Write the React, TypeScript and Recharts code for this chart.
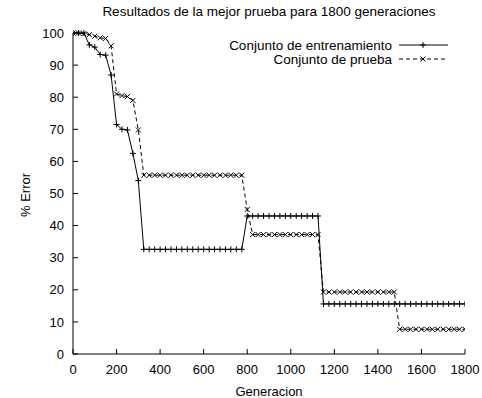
import React from 'react';
import { LineChart, Line, XAxis, YAxis } from 'recharts';

const generations = [
  0, 25, 50, 75, 100, 125, 150, 175, 200, 225, 250, 275, 300, 325, 350, 375, 400, 425, 450, 475,
  500, 525, 550, 575, 600, 625, 650, 675, 700, 725, 750, 775, 800, 825, 850, 875, 900, 925, 950,
  975, 1000, 1025, 1050, 1075, 1100, 1125, 1150, 1175, 1200, 1225, 1250, 1275, 1300, 1325, 1350,
  1375, 1400, 1425, 1450, 1475, 1500, 1525, 1550, 1575, 1600, 1625, 1650, 1675, 1700, 1725, 1750,
  1775, 1800,
];

const trainingError = [
  100, 100, 100, 96.3, 95.6, 93.3, 93.1, 86.9, 71.5, 70.0, 69.8, 62.5, 54.0,
  32.6, 32.6, 32.6, 32.6, 32.6, 32.6, 32.6, 32.6, 32.6, 32.6, 32.6, 32.6, 32.6, 32.6, 32.6, 32.6, 32.6, 32.6, 32.6,
  43.0, 43.0, 43.0, 43.0, 43.0, 43.0, 43.0, 43.0, 43.0, 43.0, 43.0, 43.0, 43.0, 43.0,
  15.6, 15.6, 15.6, 15.6, 15.6, 15.6, 15.6, 15.6, 15.6, 15.6, 15.6, 15.6, 15.6, 15.6, 15.6, 15.6, 15.6, 15.6,
  15.6, 15.6, 15.6, 15.6, 15.6, 15.6, 15.6, 15.6, 15.6,
];

const testError = [
  100, 100, 99.8, 99.5, 99.0, 98.5, 98.3, 96.0, 81.0, 80.5, 80.2, 79.0, 69.8,
  55.7, 55.7, 55.7, 55.7, 55.7, 55.7, 55.7, 55.7, 55.7, 55.7, 55.7, 55.7, 55.7, 55.7, 55.7, 55.7, 55.7, 55.7, 55.7,
  45.0,
  37.2, 37.2, 37.2, 37.2, 37.2, 37.2, 37.2, 37.2, 37.2, 37.2, 37.2, 37.2, 37.2,
  19.3, 19.3, 19.3, 19.3, 19.3, 19.3, 19.3, 19.3, 19.3, 19.3, 19.3, 19.3, 19.3, 19.3,
  7.7, 7.7, 7.7, 7.7, 7.7, 7.7, 7.7, 7.7, 7.7, 7.7, 7.7, 7.7, 7.7,
];

const xTicks = [0, 200, 400, 600, 800, 1000, 1200, 1400, 1600, 1800];
const yTicks = [0, 10, 20, 30, 40, 50, 60, 70, 80, 90, 100];

const chartTitle = 'Resultados de la mejor prueba para 1800 generaciones';
const xLabel = 'Generacion';
const yLabel = '% Error';
const trainName = 'Conjunto de entrenamiento';
const testName = 'Conjunto de prueba';

const data = generations.map((g, i) => ({ gen: g, train: trainingError[i], test: testError[i] }));

const FONT = '"Liberation Sans", Arial, Helvetica, sans-serif';
const W = 482;
const H = 398;

const plusPath = (cx: number, cy: number) => `M${cx - 3},${cy}h6M${cx},${cy - 3}v6`;
const crossPath = (cx: number, cy: number) =>
  `M${cx - 2.5},${cy - 2.5}l5,5M${cx - 2.5},${cy + 2.5}l5,-5`;

const PlusDot = (props: any) => {
  const { cx, cy, index } = props;
  if (cx == null || cy == null) return <g key={`pe${index}`} />;
  return <path key={`p${index}`} d={plusPath(cx, cy)} stroke="#000" strokeWidth={1} fill="none" />;
};

const CrossDot = (props: any) => {
  const { cx, cy, index } = props;
  if (cx == null || cy == null) return <g key={`ce${index}`} />;
  return <path key={`c${index}`} d={crossPath(cx, cy)} stroke="#000" strokeWidth={1} fill="none" />;
};

const tickStyle = { fill: '#000', fontSize: 13, fontFamily: FONT };

export default function App() {
  return (
    <div style={{ position: 'absolute', left: 0, top: 0, width: W, height: H, background: '#fff' }}>
      <LineChart
        width={W}
        height={H}
        data={data}
        margin={{ top: 33, right: 17, bottom: 14, left: 13 }}
      >
        <XAxis
          xAxisId="b"
          dataKey="gen"
          type="number"
          domain={[0, 1800]}
          ticks={xTicks}
          height={30}
          tickSize={-5}
          tickMargin={16}
          stroke="#000"
          tickLine={{ stroke: '#000' }}
          axisLine={{ stroke: '#000' }}
          tick={tickStyle}
          interval={0}
          allowDataOverflow
        />
        <XAxis
          xAxisId="t"
          orientation="top"
          type="number"
          dataKey="gen"
          domain={[0, 1800]}
          ticks={xTicks}
          height={0}
          tickSize={-5}
          tick={false}
          stroke="#000"
          tickLine={{ stroke: '#000' }}
          axisLine={{ stroke: '#000' }}
          interval={0}
        />
        <YAxis
          yAxisId="l"
          type="number"
          domain={[0, 100]}
          ticks={yTicks}
          width={60}
          tickSize={-5}
          tickMargin={14}
          stroke="#000"
          tickLine={{ stroke: '#000' }}
          axisLine={{ stroke: '#000' }}
          tick={tickStyle}
          interval={0}
        />
        <YAxis
          yAxisId="r"
          orientation="right"
          type="number"
          domain={[0, 100]}
          ticks={yTicks}
          width={0}
          tickSize={-5}
          tick={false}
          stroke="#000"
          tickLine={{ stroke: '#000' }}
          axisLine={{ stroke: '#000' }}
          interval={0}
        />
        <Line
          xAxisId="b"
          yAxisId="l"
          type="linear"
          dataKey="train"
          stroke="#000"
          strokeWidth={1}
          dot={PlusDot}
          activeDot={false}
          isAnimationActive={false}
        />
        <Line
          xAxisId="b"
          yAxisId="l"
          type="linear"
          dataKey="test"
          stroke="#000"
          strokeWidth={1}
          strokeDasharray="4 3"
          dot={CrossDot}
          activeDot={false}
          isAnimationActive={false}
        />
      </LineChart>
      <svg
        width={W}
        height={H}
        style={{ position: 'absolute', left: 0, top: 0, pointerEvents: 'none' }}
        fontFamily={FONT}
      >
        <text x={269} y={16} textAnchor="middle" fontSize={13.5} fill="#000">
          {chartTitle}
        </text>
        <text x={392} y={49.5} textAnchor="end" fontSize={13.5} fill="#000">
          {trainName}
        </text>
        <line x1={399} y1={45} x2={448} y2={45} stroke="#000" strokeWidth={1} />
        <path d={plusPath(423, 45)} stroke="#000" strokeWidth={1} fill="none" />
        <text x={392} y={63.5} textAnchor="end" fontSize={13.5} fill="#000">
          {testName}
        </text>
        <line x1={399} y1={59} x2={448} y2={59} stroke="#000" strokeWidth={1} strokeDasharray="4 3" />
        <path d={crossPath(423, 59)} stroke="#000" strokeWidth={1} fill="none" />
        <text
          x={30}
          y={195}
          textAnchor="middle"
          fontSize={13}
          fill="#000"
          transform="rotate(-90 30 195)"
        >
          {yLabel}
        </text>
        <text x={269} y={396} textAnchor="middle" fontSize={13} fill="#000">
          {xLabel}
        </text>
      </svg>
    </div>
  );
}
